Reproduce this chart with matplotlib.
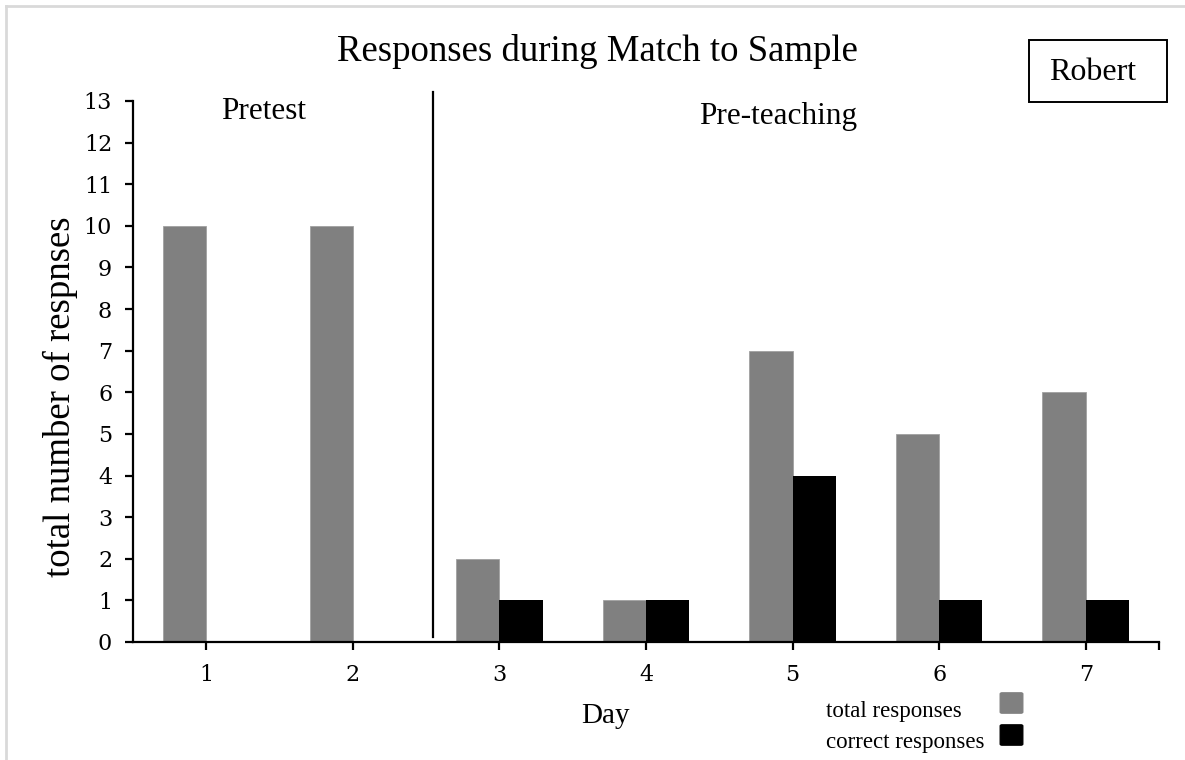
import numpy as np
import matplotlib
matplotlib.use("Agg")
import matplotlib.pyplot as plt
from matplotlib.patches import Rectangle, FancyBboxPatch
from matplotlib.lines import Line2D

days = [1, 2, 3, 4, 5, 6, 7]
total_responses = [10, 10, 2, 1, 7, 5, 6]
correct_responses = [0, 0, 1, 1, 4, 1, 1]
yticks = list(range(0, 14))
phase_change = 2.55

W, H = 1185, 760
serif = "Liberation Serif"

def fx(px):
    return px / W

def fy(py):
    return 1 - py / H

fig = plt.figure(figsize=(W / 100, H / 100), dpi=100)
ax = fig.add_axes([fx(133), fy(642), fx(1159) - fx(133), fy(101) - fy(642)])

x = np.array(days, dtype=float)
bw = 0.295
ax.bar(x - bw / 2, total_responses, width=bw, color="#808080", edgecolor="#a0a0a0", linewidth=0.6)
ax.bar(x + bw / 2, correct_responses, width=bw, color="black")

ax.set_xlim(0.5, 7.5)
ax.set_ylim(0, 13)
ax.set_yticks(yticks)
ax.set_xticks(days)
ax.set_xticks([7.5], minor=True)
for s in ["top", "right"]:
    ax.spines[s].set_visible(False)
for s in ["left", "bottom"]:
    ax.spines[s].set_linewidth(1.6)
ax.tick_params(axis="both", which="both", direction="out", length=6, width=1.6)
ax.tick_params(axis="y", pad=9)
ax.tick_params(axis="x", pad=10)
for lab in ax.get_xticklabels() + ax.get_yticklabels():
    lab.set_fontfamily("DejaVu Serif")
    lab.set_fontsize(16)

# phase change line
ax.plot([phase_change, phase_change], [0.12, 13.22], color="black", lw=1.6, clip_on=False)

# texts
fig.text(fx(597), fy(61), "Responses during Match to Sample", family=serif, fontsize=26.5,
         ha="center", va="baseline")
fig.text(fx(264), fy(119), "Pretest", family=serif, fontsize=22.5, ha="center", va="baseline")
fig.text(fx(778), fy(124), "Pre-teaching", family=serif, fontsize=22.5, ha="center", va="baseline")
fig.text(fx(60), fy(397), "total number of respnses", family=serif, fontsize=26.5,
         rotation=90, ha="center", va="center")
fig.text(fx(605), fy(716), "Day", family=serif, fontsize=21, ha="center", va="center")

# Robert box
fig.patches.append(Rectangle((fx(1029), fy(102)), fx(1167) - fx(1029), fy(40) - fy(102),
                             transform=fig.transFigure, fill=False, edgecolor="black", lw=1.4))
fig.text(fx(1093), fy(72), "Robert", family=serif, fontsize=23, ha="center", va="center")

# legend
legend_items = [("total responses", "#808080", 703, 717), ("correct responses", "black", 735, 748)]
for label, col, cy, base in legend_items:
    fig.patches.append(FancyBboxPatch((fx(1002), fy(cy + 9)), fx(1021) - fx(1002), fy(cy - 9) - fy(cy + 9),
                                      boxstyle="round,pad=0.0015", transform=fig.transFigure,
                                      facecolor=col, edgecolor=col, lw=1))
    fig.text(fx(826), fy(base), label, family=serif, fontsize=16.5, ha="left", va="baseline")

# light border
fig.add_artist(Line2D([fx(6), 1], [fy(6), fy(6)], transform=fig.transFigure, color="#d9d9d9", lw=2))
fig.add_artist(Line2D([fx(6), fx(6)], [fy(6), 0], transform=fig.transFigure, color="#d9d9d9", lw=2))

fig.savefig("out.png", dpi=100)
